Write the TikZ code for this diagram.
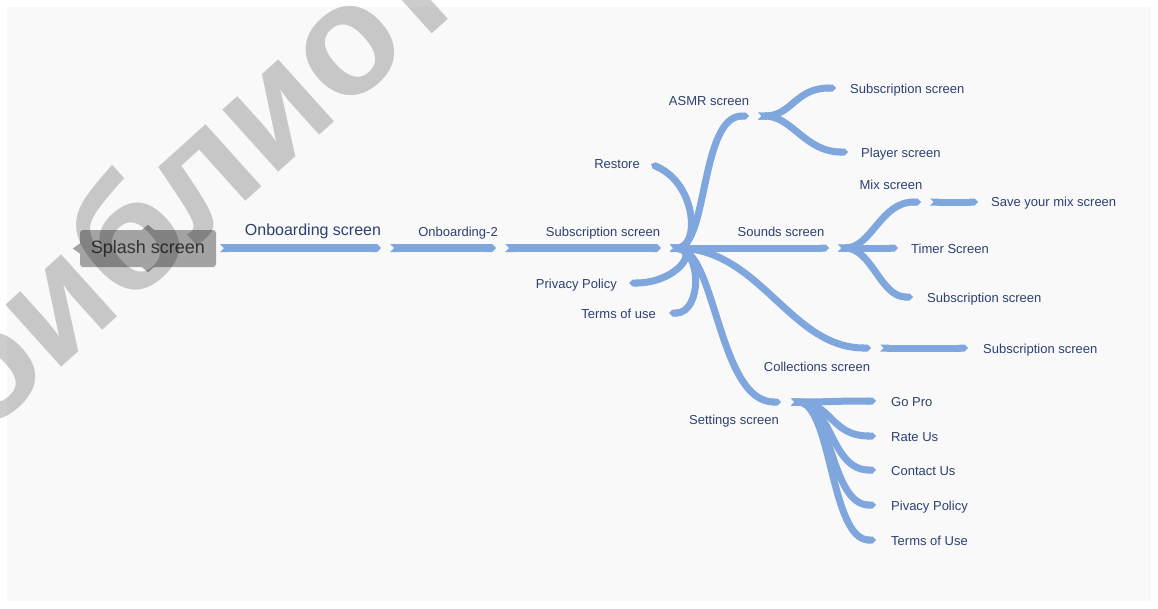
\documentclass[tikz,border=0pt]{standalone}
\usepackage{fontspec}
\setmainfont{Liberation Sans}
\usetikzlibrary{arrows.meta,positioning}
\definecolor{branchblue}{RGB}{128,166,222}
\definecolor{labelnavy}{RGB}{45,64,112}
\definecolor{splashgray}{RGB}{163,163,163}
\definecolor{pagebg}{RGB}{249,249,249}
\begin{document}
\begin{tikzpicture}[x=1pt, y=-1pt,
    branch/.style={draw=branchblue, line width=7pt, {Triangle Cap[reversed]}-{Triangle Cap}},
    trunk/.style={branch, line width=8pt},
    lbl/.style={text=labelnavy, inner sep=0pt, text height=11pt, text depth=1pt,
                font=\fontsize{13}{15}\selectfont}]
  \fill[white] (0,0) rectangle (1158,608);
  \fill[pagebg] (7,7) rectangle (1151,601);

  % root
  \node[fill=splashgray, rounded corners=3pt, minimum width=136pt, minimum height=37pt,
        text=black!80, font=\fontsize{18}{20}\selectfont] (splash) at (148,248.5) {Splash screen};
  \fill[splashgray] (splash.west) ++(0,-5) -- ++(-7,5) -- ++(7,5) -- cycle
                    (splash.north) ++(-6,0) -- ++(6,-5) -- ++(6,5) -- cycle
                    (splash.south) ++(-6,0) -- ++(6,5) -- ++(6,-5) -- cycle;

  % trunk
  \coordinate (t0) at (220,248);  \coordinate (t1) at (381,248);
  \coordinate (t2) at (390,248);  \coordinate (t3) at (496,248);
  \coordinate (t4) at (505,248);  \coordinate (t5) at (661,248);
  \coordinate (hub) at (670,248);
  \draw[trunk] (t0) -- (t1);
  \draw[trunk] (t2) -- (t3);
  \draw[trunk] (t4) -- (t5);
  \node[lbl, font=\fontsize{16}{18}\selectfont, text height=13pt, text depth=1.5pt] (onb) at (313,230) {Onboarding screen};
  \node[lbl] (onb2) at (458,231) {Onboarding-2};
  \node[lbl] (subm) at (603,231) {Subscription screen};

  % first level
  \coordinate (restoreEnd) at (651,164);  \coordinate (asmrEnd) at (749,116);
  \coordinate (soundsEnd) at (829,248);   \coordinate (privEnd) at (629,283);
  \coordinate (termsEnd) at (669,313);    \coordinate (collEnd) at (871,348);
  \coordinate (setEnd) at (781,402);
  \draw[branch] (hub) .. controls (700,248) and (697,185) .. (restoreEnd);
  \draw[branch] (hub) .. controls (708,248) and (700,116) .. (asmrEnd);
  \draw[branch] (hub) .. controls (700,250) and (676,283) .. (privEnd);
  \draw[branch] (hub) .. controls (702,250) and (702,313) .. (termsEnd);
  \draw[branch] (hub) .. controls (760,248) and (790,348) .. (collEnd);
  \draw[branch] (hub) .. controls (716,248) and (718,402) .. (setEnd);
  \draw[branch] (hub) -- (soundsEnd);
  \node[lbl, anchor=east] (restore) at (640,163) {Restore};
  \node[lbl] (asmr) at (709,100) {ASMR screen};
  \node[lbl] (sounds) at (781,231) {Sounds screen};
  \node[lbl, anchor=east] (priv) at (617,283) {Privacy Policy};
  \node[lbl, anchor=east] (terms) at (656,313) {Terms of use};
  \node[lbl] (coll) at (817,366) {Collections screen};
  \node[lbl] (settings) at (734,419) {Settings screen};

  % ASMR screen
  \coordinate (asmrStart) at (758,116);
  \coordinate (subAEnd) at (836,88);  \coordinate (playerEnd) at (848,152);
  \draw[branch] (asmrStart) .. controls (792,116) and (795,88) .. (subAEnd);
  \draw[branch] (asmrStart) .. controls (792,116) and (805,152) .. (playerEnd);
  \node[lbl, anchor=west] (subA) at (850,88) {Subscription screen};
  \node[lbl, anchor=west] (player) at (861,152) {Player screen};

  % Sounds screen
  \coordinate (sndStart) at (838,248);
  \coordinate (mixEnd) at (921,202);  \coordinate (timerEnd) at (898,248);
  \coordinate (subSEnd) at (913,297);
  \coordinate (mixStart) at (930,202); \coordinate (saveEnd) at (978,202);
  \draw[branch] (sndStart) .. controls (872,248) and (880,202) .. (mixEnd);
  \draw[branch] (sndStart) -- (timerEnd);
  \draw[branch] (sndStart) .. controls (872,248) and (880,297) .. (subSEnd);
  \draw[branch] (mixStart) -- (saveEnd);
  \node[lbl] (mix) at (891,184) {Mix screen};
  \node[lbl, anchor=west] (save) at (991,201) {Save your mix screen};
  \node[lbl, anchor=west] (timer) at (911,248) {Timer Screen};
  \node[lbl, anchor=west] (subS) at (927,297) {Subscription screen};

  % Collections screen
  \coordinate (collStart) at (880,348); \coordinate (subCEnd) at (968,348);
  \draw[branch] (collStart) -- (subCEnd);
  \node[lbl, anchor=west] (subC) at (983,348) {Subscription screen};

  % Settings screen
  \coordinate (setStart) at (791,402);
  \foreach \ly/\txt [count=\i] in {401/Go Pro, 436/Rate Us, 470/Contact Us, 505/Pivacy Policy, 540/Terms of Use} {
    \coordinate (leaf\i) at (876,\ly);
    \draw[branch] (setStart) .. controls (832,402) and (830,\ly) .. (leaf\i);
    \node[lbl, anchor=west] (set\i) at (891,\ly) {\txt};
  }

  % watermark
  \begin{scope}
    \clip (0,0) rectangle (1158,608);
    \node[anchor=base west, rotate=42, text=black, text opacity=0.2, inner sep=0pt,
          font=\bfseries\fontsize{158}{158}\selectfont] (mark) at (-19,440) {библиотека};
  \end{scope}
\end{tikzpicture}
\end{document}
